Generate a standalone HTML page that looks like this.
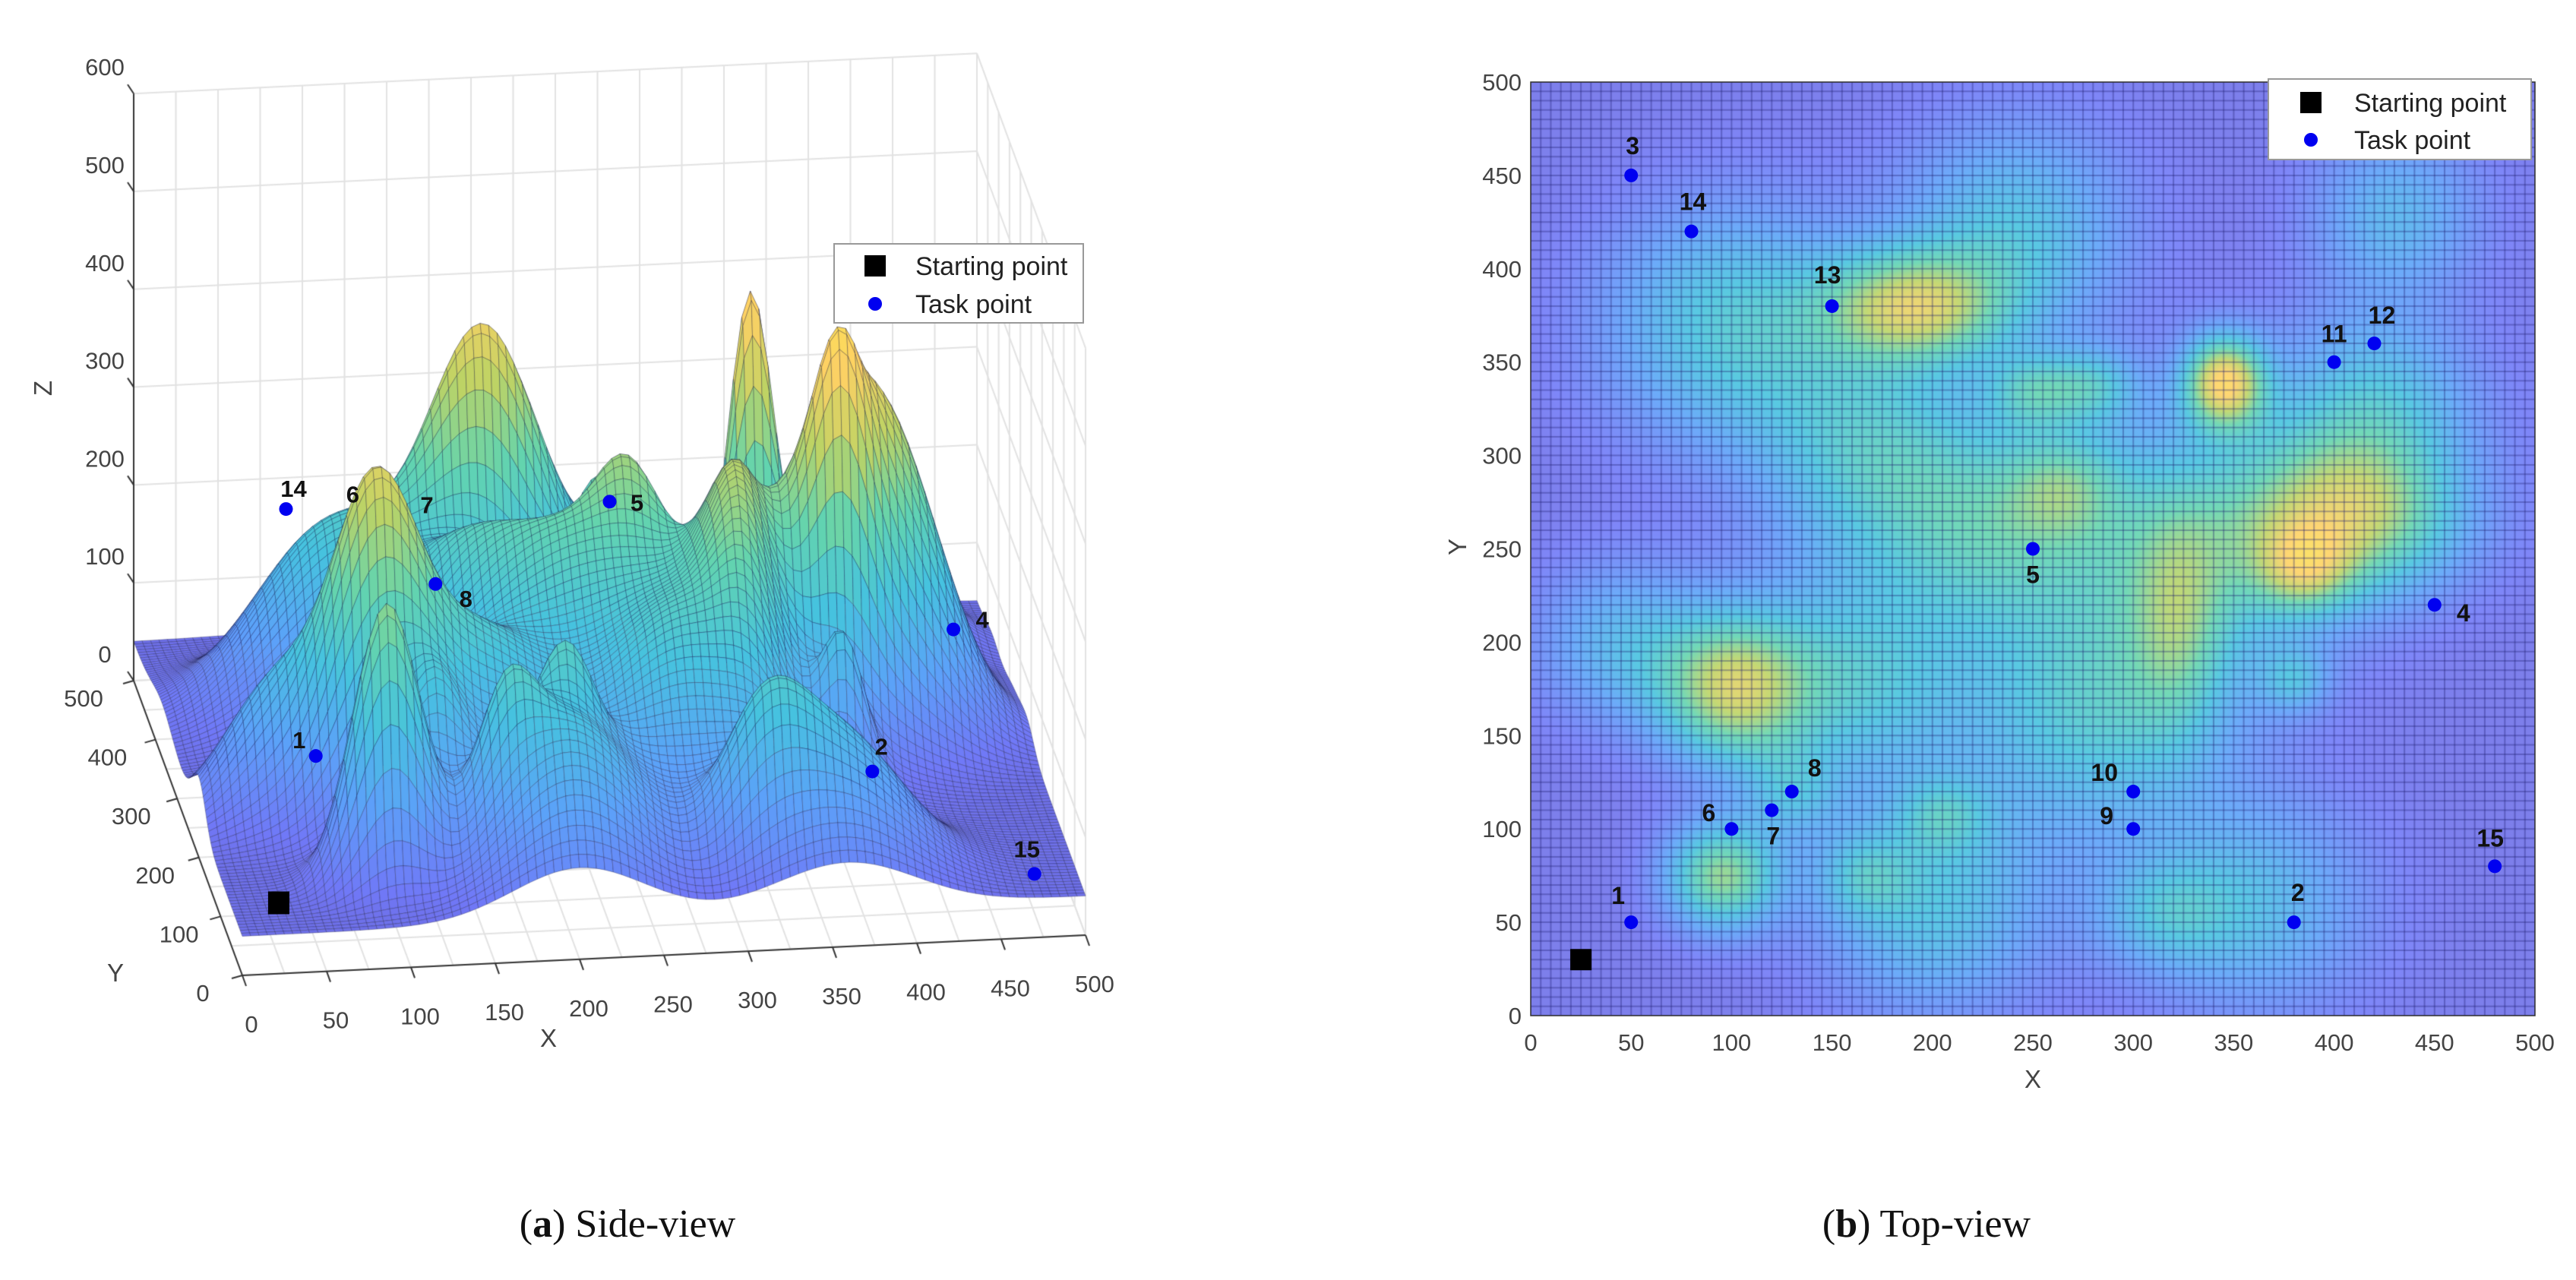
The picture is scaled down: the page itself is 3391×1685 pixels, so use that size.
<!DOCTYPE html>
<html><head><meta charset="utf-8">
<style>
html,body{margin:0;padding:0;background:#fff;}
#wrap{position:relative;width:3391px;height:1685px;overflow:hidden;background:#fff;font-family:"Liberation Sans",sans-serif;}
canvas{position:absolute;}
svg{position:absolute;left:0;top:0;}
</style></head>
<body>
<div id="wrap">
<canvas id="c3d" width="1560" height="1460" style="left:0;top:0"></canvas>
<canvas id="cmap" width="1322" height="1229" style="left:2015px;top:108px"></canvas>
<svg id="ov" width="3391" height="1685"></svg>
</div>
<script>
// ---- terrain data ----
const humpX=[100,170,240,280,200,45,330,420,430,360,160,230];
const humpY=[370,300,420,160,60,200,250,330,430,60,180,260];
const humpH=[185,170,165,175,165,130,190,155,130,140,175,170];
const humpS=[45,40,40,45,40,30,50,35,30,40,40,40];
const peakX=[345,190,100,95,410,385,250,280,265,322,380,205,165,315,130];
const peakY=[340,380,175,75,268,240,335,338,285,210,180,108,75,55,120];
const peakH=[370,290,290,280,280,170,140,140,120,110,110,100,100,110,100];
const peakSX=[14,32,26,20,38,16,16,16,20,16,12,16,16,24,16];
const peakSY=[17,21,28,20,30,16,14,14,20,42,12,14,16,20,16];
const baseH=40;
// ---- task points ----
const pointLabel=['1','2','3','4','5','6','7','8','9','10','11','12','13','14','15'];
const pointX=[50,380,50,450,250,100,120,130,300,300,400,420,150,80,480];
const pointY=[50,50,450,220,250,100,110,120,100,120,350,360,380,420,80];
const pointZ=[190,147,200,184,313,410,390,317,150,150,200,200,200,217,16];
const pointVis3d=[1,1,0,1,1,2,2,1,0,0,0,0,0,1,1]; // 1 marker+label, 2 label only
const startX=25, startY=30, startZ=54;
// ---- ticks ----
const xyTicks=[0,50,100,150,200,250,300,350,400,450,500];
const yTicks3d=[0,100,200,300,400,500];
const zTicks=[0,100,200,300,400,500,600];

function H(x,y){
  let h=baseH;
  for(let i=0;i<humpX.length;i++){const dx=x-humpX[i],dy=y-humpY[i];h+=humpH[i]*Math.exp(-(dx*dx+dy*dy)/(2*humpS[i]*humpS[i]));}
  for(let i=0;i<peakX.length;i++){const dx=(x-peakX[i])/peakSX[i],dy=(y-peakY[i])/peakSY[i];h+=peakH[i]*Math.exp(-(dx*dx+dy*dy)/2);}
  return h;
}
const PAR=[[0.2422,0.1504,0.6603],[0.2810,0.3228,0.9579],[0.1786,0.5289,0.9682],[0.0689,0.6948,0.8394],[0.2161,0.7843,0.5923],[0.6720,0.7793,0.2227],[0.9970,0.7659,0.2199],[0.9598,0.8963,0.1065],[0.9769,0.9839,0.0805]];
function parula(t){t=Math.max(0,Math.min(1,t));const s=t*8,i=Math.min(7,Math.floor(s)),f=s-i;const a=PAR[i],b=PAR[i+1];return [a[0]+(b[0]-a[0])*f,a[1]+(b[1]-a[1])*f,a[2]+(b[2]-a[2])*f];}
function col(h,alpha){const c=parula(0.03+h/620);return [Math.round((c[0]*alpha+(1-alpha))*255),Math.round((c[1]*alpha+(1-alpha))*255),Math.round((c[2]*alpha+(1-alpha))*255)];}

// ---- top view heatmap ----
const MW=1322,MH=1229;
function mx(v){return v/500*MW;} function my(v){return MH-v/500*MH;}
(function(){
  const cv=document.getElementById('cmap'),ctx=cv.getContext('2d');
  const img=ctx.createImageData(MW,MH);
  for(let py=0;py<MH;py+=2){for(let px=0;px<MW;px+=2){
    const c=col(H(px/MW*500,(MH-py)/MH*500),0.7);
    for(let a=0;a<2;a++)for(let b=0;b<2;b++){const X=px+a,Y=py+b;if(X<MW&&Y<MH){const k=(Y*MW+X)*4;img.data[k]=c[0];img.data[k+1]=c[1];img.data[k+2]=c[2];img.data[k+3]=255;}}
  }}
  ctx.putImageData(img,0,0);
  ctx.strokeStyle='rgba(30,30,110,0.34)';ctx.lineWidth=2;
  for(let i=0;i<=100;i++){const x=mx(i*5);ctx.beginPath();ctx.moveTo(x,0);ctx.lineTo(x,MH);ctx.stroke();const y=my(i*5);ctx.beginPath();ctx.moveTo(0,y);ctx.lineTo(MW,y);ctx.stroke();}
})();

// ---- side view projection ----
function P(x,y,z){return [319+2.22*x-0.286*y, 1284-0.106*x-0.776*y-1.288*z];}
(function(){
  const cv=document.getElementById('c3d'),ctx=cv.getContext('2d');
  ctx.strokeStyle='#e2e2e2';ctx.lineWidth=2;
  function L(a,b){ctx.beginPath();ctx.moveTo(a[0],a[1]);ctx.lineTo(b[0],b[1]);ctx.stroke();}
  for(let x=0;x<=500;x+=25){L(P(x,500,0),P(x,500,600));L(P(x,0,0),P(x,500,0));}
  for(let z=0;z<=600;z+=100){L(P(0,500,z),P(500,500,z));L(P(500,0,z),P(500,500,z));}
  for(let y=0;y<=500;y+=50){L(P(500,y,0),P(500,y,600));L(P(0,y,0),P(500,y,0));}
  const N=100,st=5;const g=[];
  for(let j=0;j<=N;j++){g.push([]);for(let i=0;i<=N;i++){g[j].push(H(i*st,j*st));}}
  ctx.lineWidth=1;ctx.strokeStyle='rgba(25,25,70,0.33)';
  for(let j=N-1;j>=0;j--){for(let i=0;i<N;i++){
    const h=(g[j][i]+g[j][i+1]+g[j+1][i]+g[j+1][i+1])/4;const c=col(h,0.78);
    const a=P(i*st,j*st,g[j][i]),b=P((i+1)*st,j*st,g[j][i+1]),d=P((i+1)*st,(j+1)*st,g[j+1][i+1]),e=P(i*st,(j+1)*st,g[j+1][i]);
    ctx.fillStyle='rgb('+c[0]+','+c[1]+','+c[2]+')';
    ctx.beginPath();ctx.moveTo(a[0],a[1]);ctx.lineTo(b[0],b[1]);ctx.lineTo(d[0],d[1]);ctx.lineTo(e[0],e[1]);ctx.closePath();ctx.fill();ctx.stroke();
  }}
  ctx.strokeStyle='#333';ctx.lineWidth=2;
  L(P(0,0,0),P(500,0,0));L(P(0,0,0),P(0,500,0));L(P(0,500,0),P(0,500,600));
  for(const t of xyTicks){const p=P(t,0,0);L(p,[p[0]+5,p[1]+14]);}
  for(const t of yTicks3d){const p=P(0,t,0);L(p,[p[0]-14,p[1]+4]);}
  for(const t of zTicks){const p=P(0,500,t);L(p,[p[0]-8,p[1]-12]);}
})();

// ---- SVG overlay ----
const NS='http://www.w3.org/2000/svg';const ov=document.getElementById('ov');
function el(tag,attrs,txt){const e=document.createElementNS(NS,tag);for(const k in attrs)e.setAttribute(k,attrs[k]);if(txt!==undefined)e.textContent=txt;ov.appendChild(e);return e;}
const grey='#444';
for(const t of xyTicks){const p=P(t,0,0);
  const e=el('text',{x:p[0]+12,y:p[1]+75,'font-size':31,fill:grey,'text-anchor':'middle'},String(t));
  
  }
for(const t of yTicks3d){const p=P(0,t,0);
  const e=el('text',{x:p[0]-52-0.028*t,y:p[1]+34,'font-size':31,fill:grey,'text-anchor':'middle'},String(t));
  
  }
for(const t of zTicks){const p=P(0,500,t);
  const e=el('text',{x:138,y:p[1]-24,'font-size':31,fill:grey,'text-anchor':'middle'},String(t));
  
  }
el('text',{x:722,y:1378,'font-size':33,fill:grey,'text-anchor':'middle',},'X');
el('text',{x:152,y:1292,'font-size':33,fill:grey,'text-anchor':'middle',},'Y');
el('text',{x:0,y:0,'font-size':33,fill:grey,'text-anchor':'middle',transform:'translate(68,511) rotate(-90)',},'Z');
const off3d={'1':[-22,-10],'2':[12,-22],'4':[38,-2],'5':[36,12],'6':[-48,-6],'7':[8,-8],'8':[40,30],'14':[10,-16],'15':[-10,-22]};
for(let i=0;i<pointX.length;i++){
  if(!pointVis3d[i])continue;
  const p=P(pointX[i],pointY[i],pointZ[i]);
  if(pointVis3d[i]===1){
    const c=el('circle',{cx:p[0],cy:p[1],r:9,fill:'#0000f0'});
    
    
  }
  const o=off3d[pointLabel[i]]||[10,-10];
  const t=el('text',{x:p[0]+o[0],y:p[1]+o[1],'font-size':31,'font-weight':'bold',fill:'#111','text-anchor':'middle'},pointLabel[i]);
  
  
}
{const p=P(startX,startY,startZ);el('rect',{x:p[0]-13,y:p[1]-15,width:28,height:30,fill:'#000',});}
el('rect',{x:1098,y:321,width:328,height:104,fill:'#fff',stroke:'#999','stroke-width':2,});
el('rect',{x:1138,y:336,width:28,height:28,fill:'#000',});
el('text',{x:1205,y:362,'font-size':34,fill:'#222',},'Starting point');
el('circle',{cx:1152,cy:400,r:9,fill:'#0000f0',});
el('text',{x:1205,y:412,'font-size':34,fill:'#222',},'Task point');

const X0=2015,Y0=108;
function sx(v){return X0+mx(v);} function sy(v){return Y0+my(v);}
el('rect',{x:X0,y:Y0,width:MW,height:MH,fill:'none',stroke:'#333','stroke-width':1.5,});
for(const t of xyTicks){
  const a=el('text',{x:sx(t),y:1383,'font-size':31,fill:grey,'text-anchor':'middle'},String(t));
  
  
  const b=el('text',{x:2003,y:sy(t)+11,'font-size':31,fill:grey,'text-anchor':'end'},String(t));
  
  
}
el('text',{x:sx(250),y:1432,'font-size':33,fill:grey,'text-anchor':'middle',},'X');
el('text',{x:0,y:0,'font-size':33,fill:grey,'text-anchor':'middle',transform:'translate(1930,720) rotate(-90)',},'Y');
const off2d={'1':[-17,-24],'2':[5,-28],'3':[2,-28],'4':[38,22],'5':[0,45],'6':[-30,-10],'7':[2,45],'8':[30,-20],'9':[-35,-6],'10':[-38,-14],'11':[0,-26],'12':[10,-26],'13':[-6,-30],'14':[2,-28],'15':[-6,-26]};
for(let i=0;i<pointX.length;i++){
  const c=el('circle',{cx:sx(pointX[i]),cy:sy(pointY[i]),r:9,fill:'#0000f0'});
  
  
  const o=off2d[pointLabel[i]];
  const t=el('text',{x:sx(pointX[i])+o[0],y:sy(pointY[i])+o[1],'font-size':32,'font-weight':'bold',fill:'#111','text-anchor':'middle'},pointLabel[i]);
  
  
}
el('rect',{x:sx(startX)-14,y:sy(startY)-14,width:28,height:28,fill:'#000',});
el('rect',{x:2986,y:104,width:346,height:106,fill:'#fff',stroke:'#999','stroke-width':2,});
el('rect',{x:3028,y:121,width:28,height:28,fill:'#000',});
el('text',{x:3099,y:147,'font-size':34,fill:'#222',},'Starting point');
el('circle',{cx:3042,cy:184,r:9,fill:'#0000f0',});
el('text',{x:3099,y:196,'font-size':34,fill:'#222',},'Task point');
const ca=el('text',{x:826,y:1628,'font-size':52,fill:'#111','text-anchor':'middle','font-family':'Liberation Serif, serif',});
ca.innerHTML='(<tspan font-weight="bold">a</tspan>) Side-view';
const cb=el('text',{x:2536,y:1628,'font-size':52,fill:'#111','text-anchor':'middle','font-family':'Liberation Serif, serif',});
cb.innerHTML='(<tspan font-weight="bold">b</tspan>) Top-view';
</script>
</body></html>
